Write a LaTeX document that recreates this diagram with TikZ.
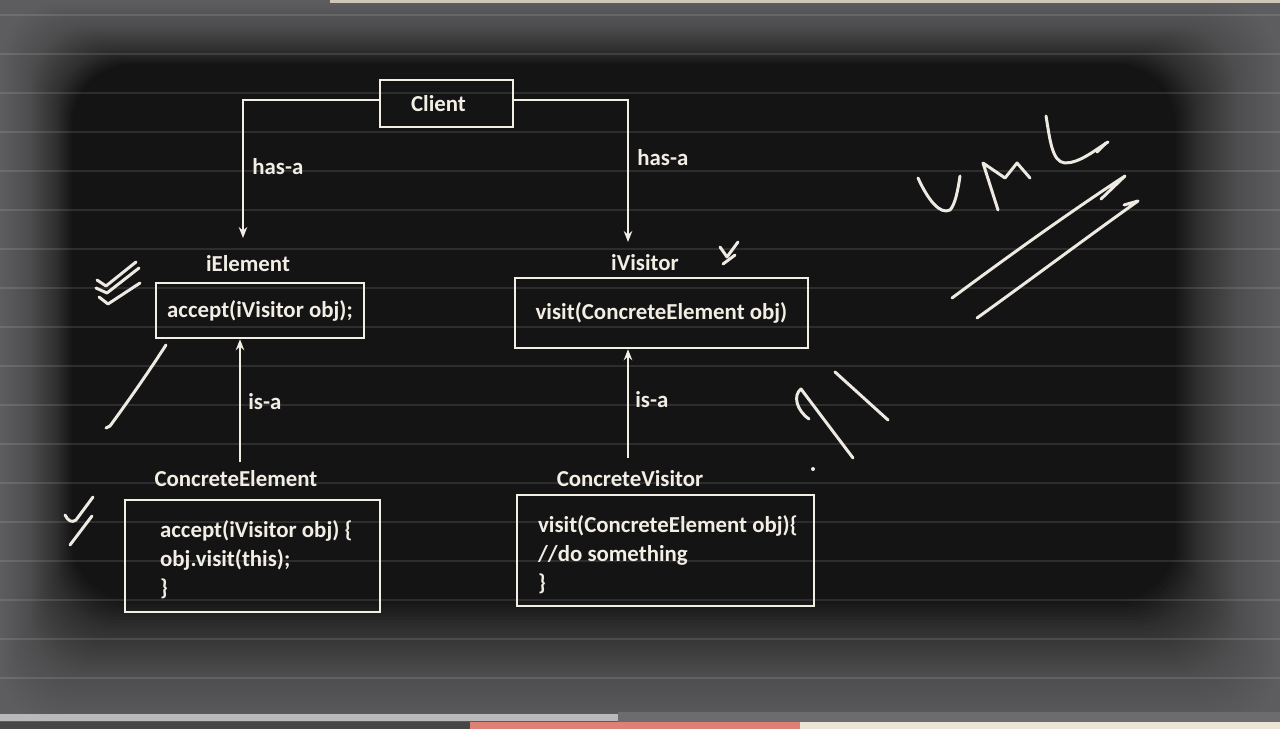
\documentclass[tikz,border=0pt]{standalone}
\usepackage{fontspec}
\setmainfont{Carlito}
\usetikzlibrary{arrows.meta}
\definecolor{fg}{RGB}{242,238,228}
\definecolor{hw}{RGB}{238,234,226}
\definecolor{bgd}{RGB}{20,20,21}
\definecolor{edgec}{RGB}{140,140,142}
\definecolor{topc}{RGB}{205,198,185}
\definecolor{barc}{RGB}{185,185,185}
\definecolor{bargray}{RGB}{108,108,108}
\definecolor{botdark}{RGB}{70,70,70}
\definecolor{botpink}{RGB}{222,128,118}
\definecolor{botwhite}{RGB}{235,228,215}
\begin{document}
\begin{tikzpicture}[x=0.02cm,y=-0.02cm,
  txt/.style={text=fg, font=\bfseries\fontsize{13}{16.5}\selectfont},
  box/.style={txt, draw=fg, line width=1.4pt, inner sep=0pt},
  lbl/.style={txt, inner sep=0pt},
  conn/.style={draw=fg, line width=1.1pt, -{Stealth[length=2.2mm,width=1.7mm]}},
  hand/.style={draw=hw, line width=1.7pt, line cap=round, line join=round}]
\useasboundingbox (0,0) rectangle (1280,729);
% background (photo of a screen)
\fill[bgd] (0,0) rectangle (1280,729);
\foreach \i in {1,...,40} {
  \fill[edgec, opacity=0.03, even odd rule] (0,0) rectangle (1280,729)
    [rounded corners=1.2cm] (1.8*\i,1.6*\i) rectangle (1280-2.6*\i,729-3.2*\i);
}
\foreach \k in {0,...,17} {
  \draw[white, opacity=0.11, line width=0.6pt] (0,15+39*\k) -- (1280,15+39*\k);
}
\fill[topc] (330,0) rectangle (1280,3);
\fill[bargray] (618,712) rectangle (1280,722);
\fill[barc] (0,714) rectangle (618,721);
\fill[botdark] (0,722) rectangle (470,729);
\fill[botpink] (470,722) rectangle (800,729);
\fill[botwhite] (800,722) rectangle (1280,729);

% nodes
\node[box, minimum width=2.66cm, minimum height=0.94cm] (client) at (446.5,103.5) {Client\hspace*{0.32cm}};
\node[lbl] (ielbl) at (248,264) {iElement};
\node[box, minimum width=4.16cm, minimum height=1.10cm] (ie) at (260,310.5) {accept(iVisitor obj);};
\node[lbl] (ivlbl) at (645,263) {iVisitor};
\node[box, minimum width=5.86cm, minimum height=1.40cm] (iv) at (661.5,313) {visit(ConcreteElement obj)};
\node[lbl] (celbl) at (236,479) {ConcreteElement};
\node[box, minimum width=5.10cm, minimum height=2.24cm] (ce) at (252.5,556) {};
\node[lbl, align=left, anchor=west] (cetext) at ([xshift=0.72cm,yshift=-0.08cm]ce.west)
  {accept(iVisitor obj) \{\\obj.visit(this);\\\}};
\node[lbl] (cvlbl) at (630,479) {ConcreteVisitor};
\node[box, minimum width=5.94cm, minimum height=2.22cm] (cv) at (665.5,550.5) {};
\node[lbl, align=left, anchor=west] (cvtext) at ([xshift=0.44cm,yshift=-0.09cm]cv.west)
  {visit(ConcreteElement obj)\{\\//do something\\\}};

% connectors
\coordinate (ieIn) at (243,238);
\coordinate (ivIn) at (628,242);
\coordinate (ceOut) at (240,462);
\coordinate (cvOut) at (628,458);
\draw[conn] ([yshift=0.07cm]client.west) -| (ieIn);
\draw[conn] ([yshift=0.07cm]client.east) -| (ivIn);
\draw[conn] (ceOut) -- (ceOut |- ie.south);
\draw[conn] (cvOut) -- (cvOut |- iv.south);
\node[lbl, anchor=west] (hasa1) at (252,167) {has-a};
\node[lbl, anchor=west] (hasa2) at (637,158) {has-a};
\node[lbl, anchor=west] (isa1) at (248,402) {is-a};
\node[lbl, anchor=west] (isa2) at (635,400) {is-a};

% handwritten marks
\draw[hand] (97,280) -- (106,286) -- (136,262);
\draw[hand] (96,288) -- (107,293) -- (139,268);
\draw[hand] (99,297) -- (108,304) -- (140,283);
\draw[hand] (166,345) .. controls (140,385) and (118,415) .. (110,426) -- (106,428);
\draw[hand] (65,515) .. controls (68,521) and (72,523) .. (76,520) -- (93,497);
\draw[hand] (92,516) -- (70,545);
\draw[hand] (720,247) -- (727,257) -- (738,242);
\draw[hand] (723,264) -- (735,255);
\draw[hand] (809,419) .. controls (796,410) and (793,395) .. (801,389) -- (853,458);
\draw[hand] (835,372) -- (888,420);
\fill[hw] (813,469) circle (2);
% UML
\draw[hand] (918,178) .. controls (928,200) and (940,215) .. (950,210) .. controls (955,205) and (958,190) .. (960,176);
\draw[hand] (998,210) -- (983,163) -- (1005,178) -- (1017,163) -- (1030,178);
\draw[hand] (1046,116) .. controls (1050,140) and (1052,162) .. (1065,163) .. controls (1080,163) and (1095,150) .. (1108,142);
\draw[hand] (1097,152) -- (1106,143);
\draw[hand] (952,298) .. controls (1010,255) and (1070,212) .. (1125,176) -- (1101,199);
\draw[hand] (977,318) .. controls (1030,280) and (1090,235) .. (1138,201) -- (1124,205);
\end{tikzpicture}
\end{document}
